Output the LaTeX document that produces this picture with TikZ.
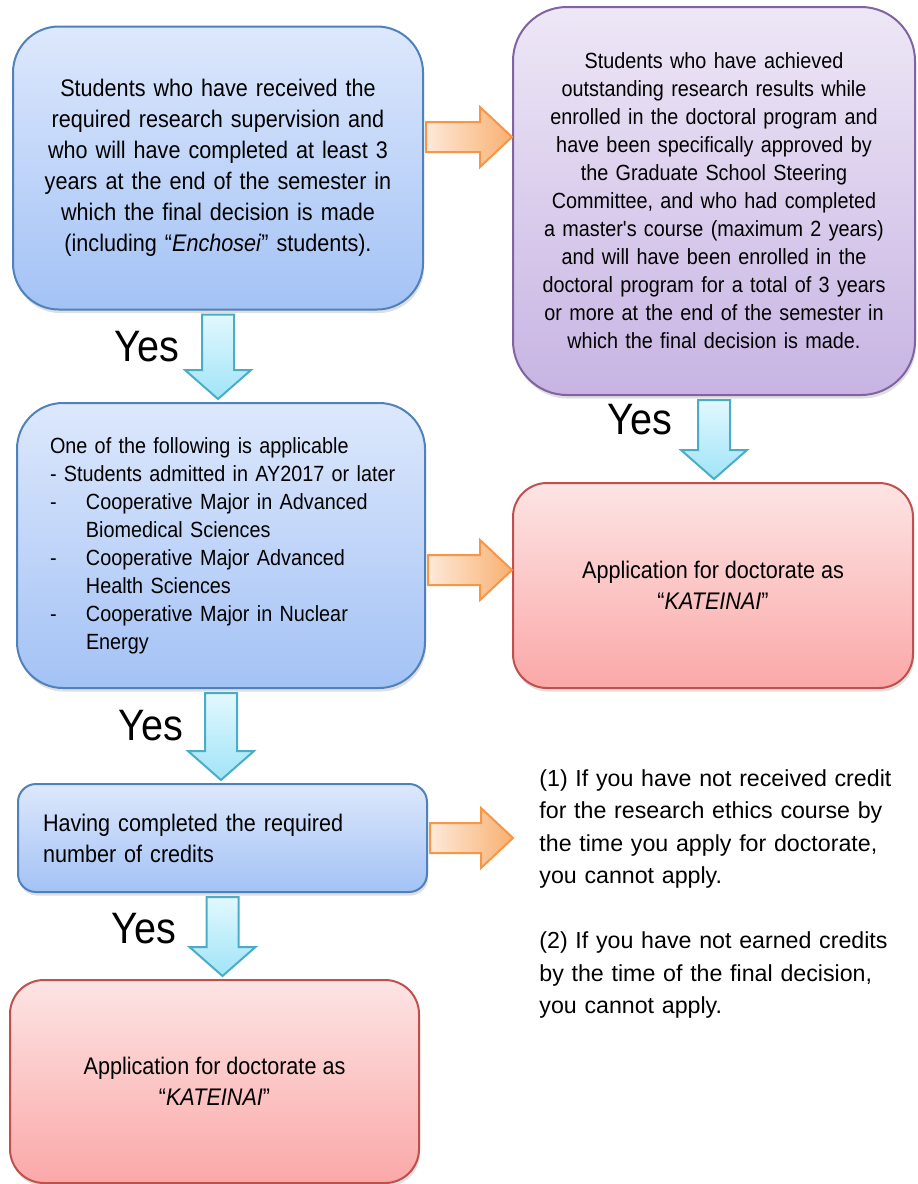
\documentclass[tikz,border=0pt]{standalone}
\usepackage{fontspec}
\setmainfont{Liberation Sans}
\newfontfamily\condfont{Liberation Sans}[FakeStretch=0.9]
\usetikzlibrary{calc,shadows}

\definecolor{bluetop}{RGB}{221,232,252}
\definecolor{bluebot}{RGB}{163,194,245}
\definecolor{blueline}{RGB}{79,129,189}
\definecolor{purptop}{RGB}{238,231,246}
\definecolor{purpbot}{RGB}{199,180,227}
\definecolor{purpline}{RGB}{128,100,162}
\definecolor{redtop}{RGB}{253,228,228}
\definecolor{redbot}{RGB}{251,168,168}
\definecolor{redline}{RGB}{192,80,77}
\definecolor{orgleft}{RGB}{253,233,217}
\definecolor{orgright}{RGB}{249,176,113}
\definecolor{orgline}{RGB}{247,150,70}
\definecolor{cyantop}{RGB}{226,248,254}
\definecolor{cyanbot}{RGB}{160,228,248}
\definecolor{cyanline}{RGB}{75,172,198}

\tikzset{
  box/.style={draw, line width=1pt, inner sep=0pt,
    drop shadow={opacity=0.25,shadow xshift=0.6pt,shadow yshift=-1.8pt}},
  bluebox/.style={box, draw=blueline, top color=bluetop, bottom color=bluebot},
  purplebox/.style={box, draw=purpline, top color=purptop, bottom color=purpbot},
  redbox/.style={box, draw=redline, top color=redtop, bottom color=redbot},
  bigtext/.style={font=\condfont\fontsize{12}{15.5}\selectfont},
  smalltext/.style={font=\condfont\fontsize{11}{14}\selectfont},
  yes/.style={font=\condfont\fontsize{22}{26}\selectfont},
  downarr/.style={draw=cyanline, line width=1pt, top color=cyantop, bottom color=cyanbot},
  rightarr/.style={draw=orgline, line width=1pt, left color=orgleft, right color=orgright},
}

% fat block arrows between two points
\newcommand{\fatdown}[2]{%
  \shadedraw[downarr] let \p1=#1, \p2=#2 in
    (\x1-8pt,\y1-2pt) -- (\x1+8pt,\y1-2pt) -- (\x1+8pt,\y2+16pt)
    -- (\x1+16.5pt,\y2+16pt) -- (\x1,\y2+1.5pt) -- (\x1-16.5pt,\y2+16pt)
    -- (\x1-8pt,\y2+16pt) -- cycle;}
\newcommand{\fatright}[2]{%
  \shadedraw[rightarr] let \p1=#1, \p2=#2 in
    (\x1+1pt,\y1+7.5pt) -- (\x2-16pt,\y1+7.5pt) -- (\x2-16pt,\y1+15pt)
    -- (\x2,\y1) -- (\x2-16pt,\y1-15pt) -- (\x2-16pt,\y1-7.5pt)
    -- (\x1+1pt,\y1-7.5pt) -- cycle;}

\begin{document}
\begin{tikzpicture}[x=0.5pt,y=-0.5pt]
  \useasboundingbox (0,0) rectangle (917,1184);

  \node[bluebox, rounded corners=23pt, minimum width=205pt, minimum height=141.5pt,
        bigtext, text width=190pt, align=center] (elig) at (218,168)
    {Students who have received the\\ required research supervision and\\
     who will have completed at least 3\\ years at the end of the semester in\\
     which the final decision is made\\ (including “\textit{Enchosei}” students).};

  \node[purplebox, rounded corners=27pt, minimum width=201pt, minimum height=194pt,
        smalltext, text width=190pt, align=center] (outst) at (714,201)
    {Students who have achieved\\ outstanding research results while\\
     enrolled in the doctoral program and\\ have been specifically approved by\\
     the Graduate School Steering\\ Committee, and who had completed\\
     a master's course (maximum 2 years)\\ and will have been enrolled in the\\
     doctoral program for a total of 3 years\\ or more at the end of the semester in\\
     which the final decision is made.};

  \node[bluebox, rounded corners=23pt, minimum width=204pt, minimum height=142.5pt,
        smalltext, text width=171pt, align=left] (cond) at (221,545.5)
    {One of the following is applicable\\
     \mbox{- Students admitted in AY2017 or later}\\
     \makebox[18pt][l]{-}Cooperative Major in Advanced\\
     \hspace*{18pt}Biomedical Sciences\\
     \makebox[18pt][l]{-}Cooperative Major Advanced\\
     \hspace*{18pt}Health Sciences\\
     \makebox[18pt][l]{-}Cooperative Major in Nuclear\\
     \hspace*{18pt}Energy};

  \node[redbox, rounded corners=17pt, minimum width=200pt, minimum height=102.5pt,
        bigtext, align=center] (kat1) at (713,585.5)
    {Application for doctorate as\\ “\textit{KATEINAI}”};

  \node[bluebox, rounded corners=9pt, minimum width=204.5pt, minimum height=54pt,
        bigtext, text width=179.5pt, align=left] (cred) at (222.5,838)
    {Having completed the required\\ number of credits};

  \node[redbox, rounded corners=17pt, minimum width=204.5pt, minimum height=101.5pt,
        bigtext, align=center] (kat2) at (214.5,1081.5)
    {Application for doctorate as\\ “\textit{KATEINAI}”};

  \node[anchor=north west, inner sep=0pt, text width=185pt, align=left,
        font=\fontsize{11.6}{16.25}\selectfont] (note) at (539,769)
    {(1) If you have not received credit\\ for the research ethics course by\\
     the time you apply for doctorate,\\ you cannot apply.\\[16.25pt]
     (2) If you have not earned credits\\ by the time of the final decision,\\
     you cannot apply.};

  \node[yes] (yes1) at (147,347) {Yes};
  \node[yes] (yes2) at (640,420) {Yes};
  \node[yes] (yes3) at (151,726) {Yes};
  \node[yes] (yes4) at (143.5,929) {Yes};

  \fatdown{(elig.south)}{(cond.north)}
  \fatdown{(outst.south)}{(kat1.north)}
  \fatdown{(cond.south)}{(cred.north)}
  \fatdown{(cred.south)}{(kat2.north)}

  \fatright{($(elig.east)+(0,-31)$)}{(outst.west)}
  \fatright{($(cond.east)+(0,24.5)$)}{(kat1.west)}
  \fatright{(cred.east)}{($(note.west)+(-26,0)$)}
\end{tikzpicture}
\end{document}
